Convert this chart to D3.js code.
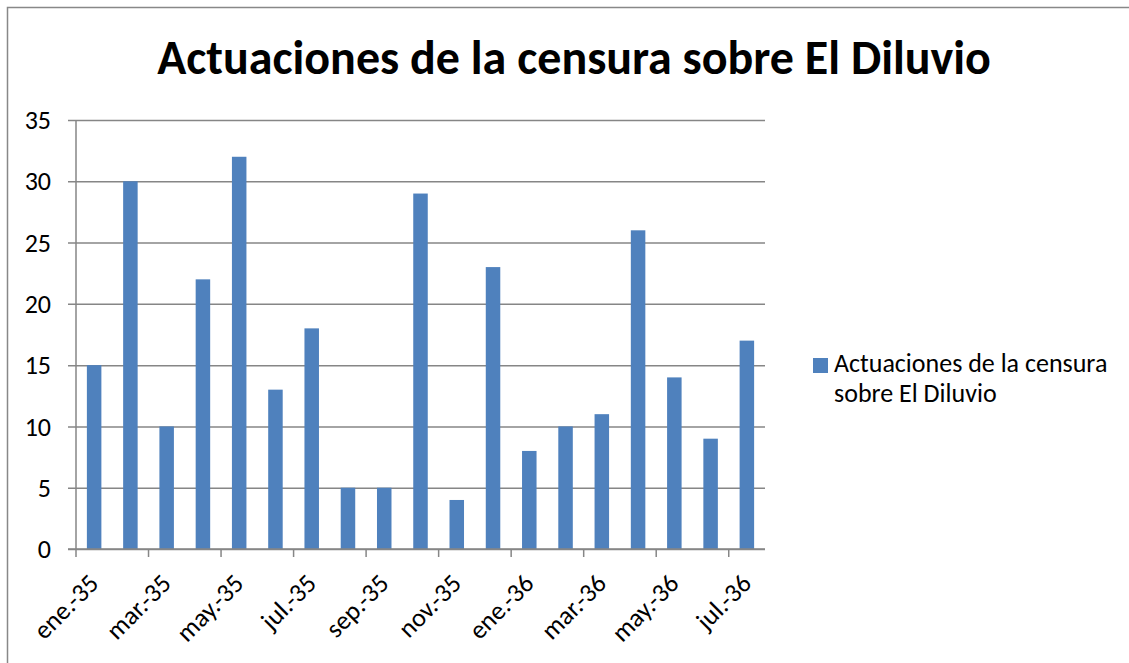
<!DOCTYPE html>
<html><head><meta charset="utf-8">
<script src="https://cdn.jsdelivr.net/npm/d3@7"></script>
<style>
html,body{margin:0;padding:0;background:#fff;}
svg{display:block;font-family:Carlito, Lato, "Open Sans", sans-serif;}
</style></head>
<body><svg id="c" width="1129" height="663"></svg>
<script>
const categories = ["ene.-35","feb.-35","mar.-35","abr.-35","may.-35","jun.-35","jul.-35","ago.-35","sep.-35","oct.-35","nov.-35","dic.-35","ene.-36","feb.-36","mar.-36","abr.-36","may.-36","jun.-36","jul.-36"];
const values = [15,30,10,22,32,13,18,5,5,29,4,23,8,10,11,26,14,9,17];
const yTicks = [0,5,10,15,20,25,30,35];
const title = "Actuaciones de la censura sobre El Diluvio";
const seriesName = ["Actuaciones de la censura","sobre El Diluvio"];

const svg = d3.select("#c");
const gridColor = "#868686";
const barColor = "#4F81BD";
const labelSize = 26;

// outer border
svg.append("rect").attr("x",7.5).attr("y",7.5).attr("width",1129).attr("height",663)
  .attr("fill","none").attr("stroke","#888").attr("stroke-width",1.5);

const pL = 76, pR = 765, pT = 120, pB = 549;
const x = d3.scaleBand().domain(categories).range([pL,pR]).paddingInner(0).paddingOuter(0);
const y = d3.scaleLinear().domain([0,35]).range([pB,pT]);

// title
svg.append("text").attr("x",574).attr("y",74).attr("text-anchor","middle")
  .attr("font-weight","bold").attr("font-size",48).attr("fill","#000").text(title);

// gridlines + y ticks
const yAxis = d3.axisLeft(y).tickValues(yTicks).tickSize(-(pR-pL)).tickPadding(25).tickFormat(d3.format("d"));
const gy = svg.append("g").attr("transform",`translate(${pL},0)`).call(yAxis);
gy.select(".domain").remove();
gy.selectAll(".tick line").attr("stroke",gridColor).attr("stroke-width",1.5).attr("x1",-8);
gy.selectAll(".tick text").attr("font-size",labelSize).attr("fill","#000").attr("font-family","Carlito, Lato, sans-serif").attr("dy","0.33em");

// bars
const bw = x.bandwidth()/2.5;
svg.append("g").selectAll("rect").data(values).join("rect")
  .attr("x",(d,i)=>x(categories[i]) + (x.bandwidth()-bw)/2)
  .attr("y",d=>y(d))
  .attr("width",bw)
  .attr("height",d=>pB - y(d))
  .attr("fill",barColor);

// y axis line
svg.append("line").attr("x1",pL).attr("x2",pL).attr("y1",pT).attr("y2",pB)
  .attr("stroke",gridColor).attr("stroke-width",1.5);

// x axis line and ticks
svg.append("line").attr("x1",pL-8).attr("x2",pR).attr("y1",pB).attr("y2",pB)
  .attr("stroke",gridColor).attr("stroke-width",1.5);
const tickCats = categories.filter((d,i)=>i%2===0);
svg.append("g").selectAll("line").data(tickCats).join("line")
  .attr("x1",d=>x(d)).attr("x2",d=>x(d)).attr("y1",pB).attr("y2",pB+8)
  .attr("stroke",gridColor).attr("stroke-width",1.5);
svg.append("g").selectAll("text").data(tickCats).join("text")
  .attr("transform",d=>`translate(${x(d)+x.bandwidth()/2+6},${pB+36}) rotate(-45)`)
  .attr("text-anchor","end").attr("font-size",labelSize).attr("fill","#000")
  .text(d=>d);

// legend
svg.append("rect").attr("x",813).attr("y",358).attr("width",15).attr("height",15).attr("fill",barColor);
svg.append("g").selectAll("text").data(seriesName).join("text")
  .attr("x",834).attr("y",(d,i)=>372+i*30).attr("font-size",labelSize).attr("fill","#000").text(d=>d);
</script></body></html>
